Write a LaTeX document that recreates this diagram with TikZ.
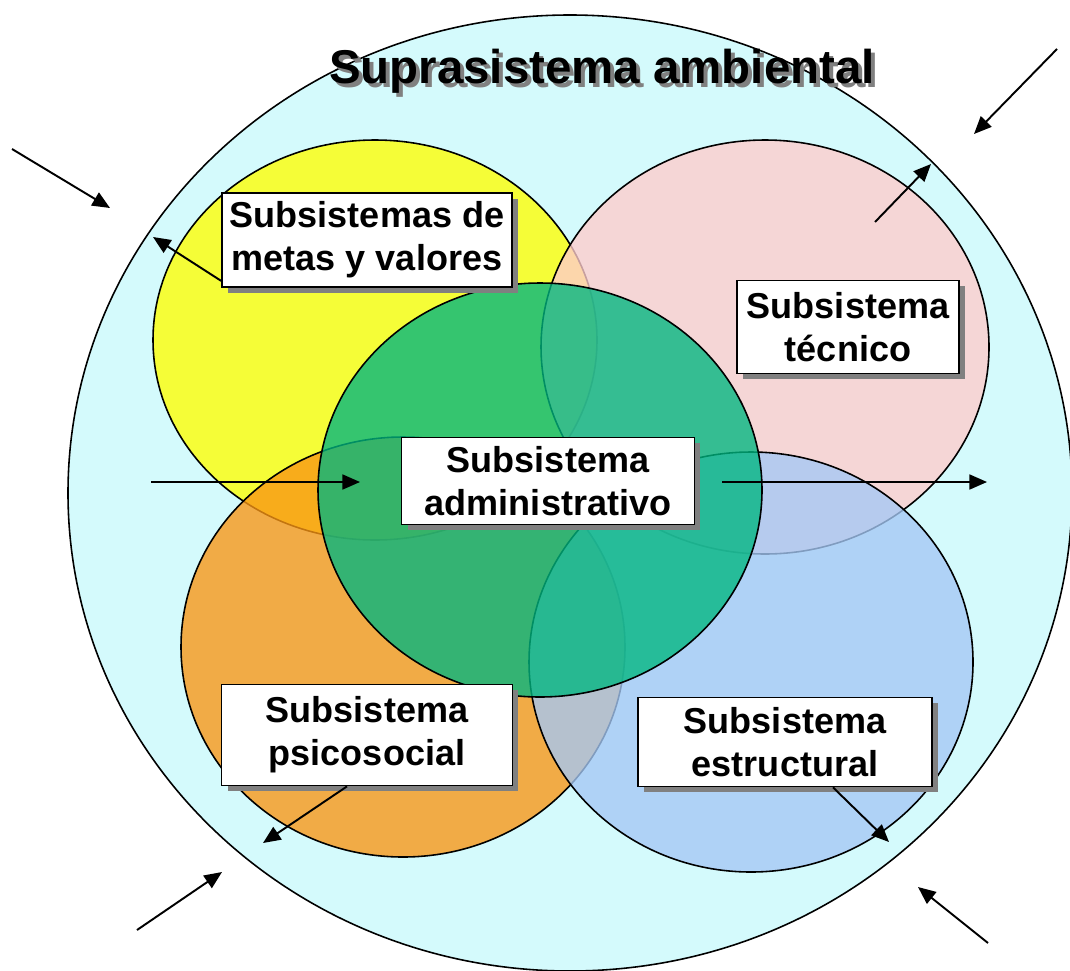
\documentclass[tikz,border=0pt]{standalone}
\usepackage{fontspec}
\setmainfont{Liberation Sans}
\usepackage{xcolor}
\usepackage{tikz}
\usetikzlibrary{arrows.meta, shadows, calc}

\definecolor{ambiente}{RGB}{212,250,252}
\definecolor{metascol}{RGB}{255,255,0}
\definecolor{tecnicocol}{RGB}{255,204,204}
\definecolor{psicocol}{RGB}{250,150,20}
\definecolor{estructcol}{RGB}{165,200,245}
\definecolor{admincol}{RGB}{0,182,128}

\begin{document}
\begin{tikzpicture}
[x=0.02cm, y=-0.02cm,
box/.style={rectangle, draw=black, line width=1pt, fill=white, inner sep=0mm, align=center, font=\fontsize{20.5}{24.5}\selectfont\bfseries, drop shadow={shadow xshift=3.4pt, shadow yshift=-3.4pt, fill=gray, opacity=1}},
sub/.style={draw=black, line width=0.9pt, fill opacity=0.78},
arr/.style={line width=1.1pt, -{Triangle[length=10pt, width=8.5pt]}},
titletext/.style={font=\fontsize{27}{30}\selectfont\bfseries, anchor=base, inner sep=0mm},
]
\path[use as bounding box, clip] (0,0) rectangle (1070,970);

\draw[fill=ambiente, line width=0.9pt] (570,493) ellipse [x radius=502, y radius=478];

\draw[sub, fill=metascol] (375,340) ellipse [x radius=222, y radius=200];
\draw[sub, fill=tecnicocol] (765,347) ellipse [x radius=224, y radius=207];
\draw[sub, fill=psicocol] (403,647) ellipse [x radius=222, y radius=210];
\draw[sub, fill=estructcol] (751,662) ellipse [x radius=222, y radius=210];
\draw[sub, fill=admincol] (540,490) ellipse [x radius=222, y radius=207];

\node[titletext, text=gray] (titleshadow) at (606,87) {Suprasistema ambiental};
\node[titletext] (title) at (602,83) {Suprasistema ambiental};

\node[box, minimum width=5.8cm, minimum height=1.88cm] (metas) at (367,240) {Subsistemas de\\metas y valores};
\node[box, minimum width=4.44cm, minimum height=1.86cm] (tecnico) at (848,327) {Subsistema\\técnico};
\node[box, minimum width=5.86cm, minimum height=1.74cm] (admin) at (548,481) {Subsistema\\administrativo};
\node[box, minimum width=5.82cm, minimum height=2.02cm] (psico) at (367,735) {Subsistema\\psicosocial};
\node[box, minimum width=5.88cm, minimum height=1.78cm] (estruct) at (785,742) {Subsistema\\estructural};

% entradas y salidas
\coordinate (in1) at (12,149);   \coordinate (in1tip) at (110,208);
\coordinate (in2) at (1057,49);  \coordinate (in2tip) at (974,134);
\coordinate (in3) at (137,930);  \coordinate (in3tip) at (222,872);
\coordinate (in4) at (988,943);  \coordinate (in4tip) at (918,887);
\coordinate (lin) at (151,482);  \coordinate (lintip) at (360,482);
\coordinate (lout) at (722,482); \coordinate (louttip) at (987,482);
\coordinate (tec) at (875,222);  \coordinate (tectip) at (931,164);
\coordinate (metastip) at (153,237);
\coordinate (psicotip) at (263,843);
\coordinate (estructtip) at (889,842);

\draw[arr] (in1) -- (in1tip);
\draw[arr] (in2) -- (in2tip);
\draw[arr] (in3) -- (in3tip);
\draw[arr] (in4) -- (in4tip);
\draw[arr] (lin) -- (lintip);
\draw[arr] (lout) -- (louttip);
\draw[arr] (tec) -- (tectip);
\draw[arr] ($(metas.south west)+(0,-7)$) -- (metastip);
\draw[arr] ($(psico.south)+(-20,0)$) -- (psicotip);
\draw[arr] ($(estruct.south)+(48,0)$) -- (estructtip);
\end{tikzpicture}
\end{document}
